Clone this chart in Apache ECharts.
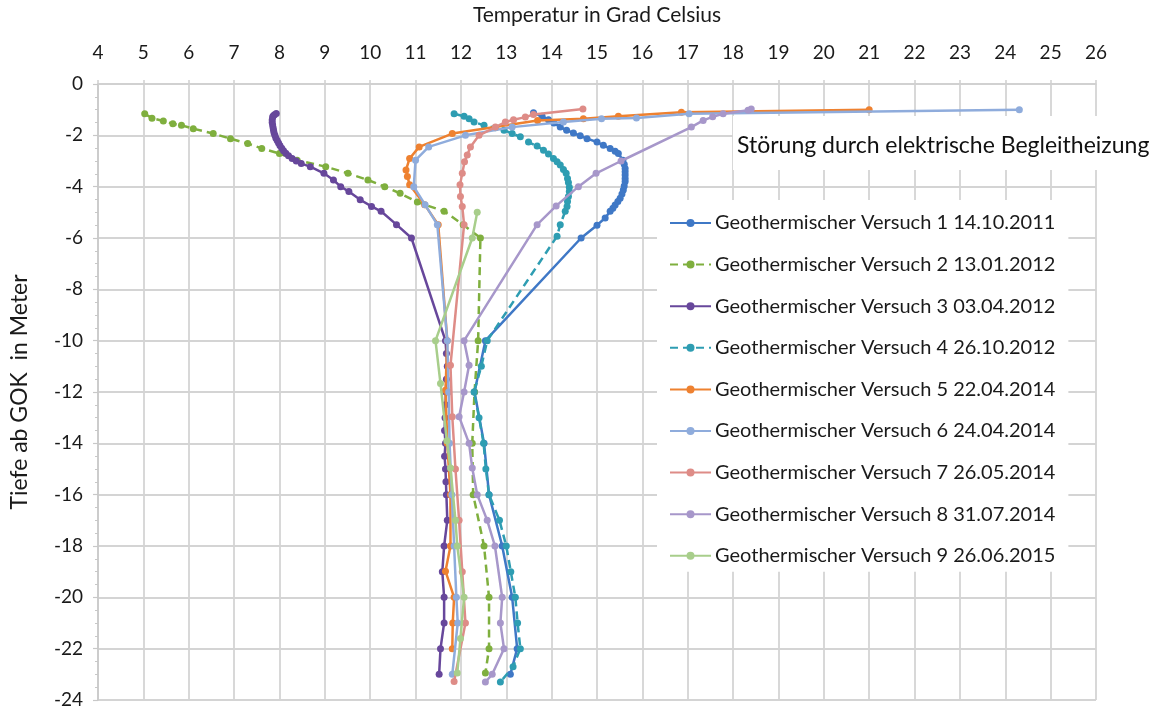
<!DOCTYPE html>
<html>
<head>
<meta charset="utf-8">
<script src="https://cdn.jsdelivr.net/npm/echarts@6/dist/echarts.min.js"></script>
<style>
html,body{margin:0;padding:0;background:#fff;}
#c{width:1159px;height:710px;}
</style>
</head>
<body>
<div id="c"></div>
<script>
// Axis ticks
const xTicks = {min: 4, max: 26, step: 1};
const yTicks = {min: -24, max: 0, step: 2};

const names = [
  'Geothermischer Versuch 1 14.10.2011',
  'Geothermischer Versuch 2 13.01.2012',
  'Geothermischer Versuch 3 03.04.2012',
  'Geothermischer Versuch 4 26.10.2012',
  'Geothermischer Versuch 5 22.04.2014',
  'Geothermischer Versuch 6 24.04.2014',
  'Geothermischer Versuch 7 26.05.2014',
  'Geothermischer Versuch 8 31.07.2014',
  'Geothermischer Versuch 9 26.06.2015'
];

// [temperature °C, depth m]
const v1 = [[13.60,-1.12],[13.79,-1.26],[13.93,-1.39],[14.05,-1.52],[14.19,-1.68],[14.33,-1.80],[14.48,-1.91],[14.63,-2.02],[14.78,-2.13],[15.00,-2.26],[15.14,-2.39],[15.29,-2.51],[15.40,-2.62],[15.47,-2.71],[15.57,-2.97],[15.60,-3.13],[15.62,-3.29],[15.62,-3.42],[15.62,-3.55],[15.62,-3.68],[15.62,-3.80],[15.60,-3.97],[15.58,-4.13],[15.55,-4.29],[15.51,-4.45],[15.46,-4.58],[15.40,-4.71],[15.35,-4.84],[15.29,-4.96],[15.18,-5.22],[15.00,-5.50],[14.65,-6.00],[12.54,-10.00],[12.30,-12.00],[12.51,-14.00],[12.62,-16.00],[12.91,-18.00],[13.13,-20.00],[13.24,-22.00],[13.09,-23.00]];
const v2 = [[5.03,-1.16],[5.19,-1.33],[5.44,-1.44],[5.65,-1.55],[5.84,-1.61],[6.10,-1.74],[6.54,-1.93],[6.92,-2.13],[7.30,-2.32],[7.61,-2.51],[8.00,-2.71],[8.39,-2.97],[9.02,-3.22],[9.51,-3.48],[9.95,-3.74],[10.32,-4.00],[10.66,-4.26],[11.04,-4.60],[11.63,-4.96],[12.05,-5.48],[12.43,-6.00],[12.38,-10.00],[12.30,-12.00],[12.25,-14.00],[12.27,-16.00],[12.51,-18.00],[12.62,-20.00],[12.62,-22.00],[12.54,-22.95]];
const v3 = [[7.93,-1.15],[7.89,-1.20],[7.86,-1.25],[7.85,-1.30],[7.84,-1.40],[7.84,-1.50],[7.85,-1.60],[7.86,-1.70],[7.87,-1.80],[7.88,-1.90],[7.90,-2.00],[7.92,-2.10],[7.95,-2.20],[7.98,-2.30],[8.01,-2.40],[8.05,-2.50],[8.09,-2.60],[8.14,-2.70],[8.20,-2.80],[8.28,-2.90],[8.37,-3.00],[8.48,-3.10],[8.68,-3.22],[8.98,-3.48],[9.19,-3.74],[9.35,-4.00],[9.53,-4.19],[9.78,-4.51],[10.03,-4.77],[10.24,-4.96],[10.58,-5.48],[10.91,-6.00],[11.66,-10.00],[11.68,-10.50],[11.70,-11.00],[11.68,-11.50],[11.67,-12.00],[11.66,-12.50],[11.65,-13.00],[11.64,-13.50],[11.66,-14.00],[11.64,-14.50],[11.66,-15.00],[11.67,-15.50],[11.68,-16.00],[11.70,-17.00],[11.63,-18.00],[11.59,-19.00],[11.63,-20.00],[11.63,-21.00],[11.55,-22.00],[11.52,-23.00]];
const v4 = [[11.85,-1.16],[12.07,-1.26],[12.18,-1.35],[12.29,-1.48],[12.51,-1.61],[12.76,-1.70],[12.95,-1.80],[13.13,-1.93],[13.31,-2.06],[13.49,-2.26],[13.68,-2.42],[13.82,-2.58],[13.93,-2.73],[14.04,-2.90],[14.12,-3.03],[14.19,-3.16],[14.26,-3.33],[14.32,-3.48],[14.35,-3.68],[14.37,-3.84],[14.39,-4.02],[14.39,-4.19],[14.37,-4.38],[14.35,-4.58],[14.34,-4.77],[14.30,-4.96],[14.19,-5.48],[14.12,-5.93],[12.58,-10.00],[12.45,-11.00],[12.29,-12.00],[12.40,-13.00],[12.50,-14.00],[12.55,-15.00],[12.62,-16.00],[12.85,-17.00],[13.00,-18.00],[13.10,-19.00],[13.20,-20.00],[13.25,-21.00],[13.31,-22.00],[13.15,-22.70],[12.87,-23.30]];
const v5 = [[21.00,-1.00],[16.86,-1.10],[15.47,-1.26],[14.70,-1.35],[13.69,-1.42],[11.81,-1.93],[11.08,-2.45],[10.87,-2.90],[10.79,-3.35],[10.82,-3.60],[10.87,-3.93],[11.20,-4.70],[11.50,-5.48],[11.70,-10.00],[11.66,-11.93],[11.70,-14.00],[11.77,-16.00],[11.77,-18.00],[11.66,-18.98],[11.85,-20.00],[11.82,-21.00],[11.81,-22.00]];
const v6 = [[24.31,-1.00],[17.03,-1.16],[15.87,-1.32],[15.10,-1.35],[14.26,-1.48],[13.13,-1.68],[12.10,-2.00],[11.29,-2.45],[11.00,-2.97],[10.96,-4.00],[11.21,-4.70],[11.48,-5.48],[11.70,-10.00],[11.73,-12.00],[11.75,-14.00],[11.80,-16.00],[11.85,-18.00],[11.90,-20.00],[11.93,-21.00],[11.81,-23.00]];
const v7 = [[14.69,-0.97],[13.60,-1.19],[13.42,-1.29],[13.16,-1.39],[12.98,-1.48],[12.76,-1.68],[12.40,-2.00],[12.21,-2.45],[12.14,-2.77],[12.08,-3.03],[12.03,-3.48],[11.98,-3.93],[11.99,-4.38],[12.03,-4.77],[12.07,-5.48],[11.77,-10.96],[11.81,-12.96],[11.88,-15.00],[11.96,-17.00],[12.03,-19.00],[12.10,-21.00],[11.85,-23.28]];
const v8 = [[18.40,-0.97],[18.33,-1.02],[17.78,-1.16],[17.55,-1.28],[17.34,-1.42],[17.08,-1.68],[15.53,-3.00],[14.98,-3.48],[14.59,-4.00],[14.10,-4.75],[13.68,-5.48],[12.07,-10.00],[12.18,-10.96],[12.07,-12.00],[11.96,-12.96],[12.18,-14.00],[12.25,-14.96],[12.36,-16.00],[12.58,-17.00],[12.75,-18.00],[12.91,-20.00],[12.87,-21.00],[12.95,-22.00],[12.69,-23.00],[12.54,-23.30]];
const v9 = [[12.36,-5.00],[12.25,-6.00],[11.44,-10.00],[11.55,-11.67],[11.69,-13.90],[11.77,-14.96],[11.88,-17.00],[11.92,-18.00],[12.07,-20.00],[11.99,-21.60],[11.92,-22.95]];

const values = [v1, v2, v3, v4, v5, v6, v7, v8, v9];
const colors = ['#3F78C6','#7FAF3E','#67479B','#2E9DB2','#EE8130','#8FACDC','#DE8C87','#A797CA','#A8CE8B'];
const dashed = [false, true, false, true, false, false, false, false, false];

const FONT = 'Lato';

const chart = echarts.init(document.getElementById('c'), null, {renderer: 'canvas'});

const series = values.map((v, i) => ({
  name: names[i],
  type: 'line',
  data: v,
  symbol: 'circle',
  symbolSize: 7,
  color: colors[i],
  lineStyle: {width: 2.5, color: colors[i], type: dashed[i] ? [8, 5] : 'solid'},
  itemStyle: {color: colors[i]},
  emphasis: {disabled: true},
  animation: false,
  z: 2 + i
}));

chart.setOption({
  animation: false,
  backgroundColor: '#ffffff',
  textStyle: {fontFamily: FONT},
  grid: {left: 90, right: 63, top: 80, bottom: 10, containLabel: false},
  xAxis: {
    type: 'value',
    position: 'top',
    min: xTicks.min, max: xTicks.max, interval: xTicks.step,
    name: 'Temperatur in Grad Celsius',
    nameLocation: 'middle',
    nameGap: 58,
    nameTextStyle: {fontFamily: FONT, fontSize: 21, color: '#1a1a1a'},
    axisLine: {show: true, lineStyle: {color: '#d0d0d0', width: 1.5}},
    axisTick: {show: true, length: 4, lineStyle: {color: '#d0d0d0', width: 1.5}},
    axisLabel: {fontFamily: FONT, fontSize: 19, color: '#1a1a1a', margin: 22},
    splitLine: {show: true, lineStyle: {color: '#d4d4d4', width: 1.8}}
  },
  yAxis: {
    type: 'value',
    min: yTicks.min, max: yTicks.max, interval: yTicks.step,
    name: 'Tiefe ab GOK  in Meter',
    nameLocation: 'middle',
    nameGap: 67,
    nameRotate: 90,
    nameTextStyle: {fontFamily: FONT, fontSize: 23, color: '#1a1a1a'},
    axisLine: {show: true, lineStyle: {color: '#c8c8c8', width: 1.5}},
    axisTick: {show: true, length: 5, lineStyle: {color: '#c8c8c8', width: 1.2}},
    minorTick: {show: true, splitNumber: 4, length: 3, lineStyle: {color: '#c8c8c8', width: 1}},
    axisLabel: {fontFamily: FONT, fontSize: 19, color: '#1a1a1a', margin: 15},
    splitLine: {show: true, lineStyle: {color: '#d4d4d4', width: 1.8}}
  },
  legend: {
    show: true,
    orient: 'vertical',
    left: 657,
    top: 200,
    backgroundColor: '#ffffff',
    padding: [12, 13, 5, 12],
    itemWidth: 41,
    itemHeight: 10,
    itemGap: 19.6,
    textStyle: {fontFamily: FONT, fontSize: 20, color: '#1a1a1a', lineHeight: 22, padding: [0, 0, 0, -1]},
    data: names
  },
  graphic: [
    {type: 'rect', left: 733, top: 116, shape: {width: 426, height: 54}, style: {fill: '#ffffff'}, z: 50},
    {type: 'text', left: 737, top: 134, style: {text: 'Störung durch elektrische Begleitheizung', font: '23px ' + FONT, fill: '#111'}, z: 51}
  ],
  series: series
});
</script>
</body>
</html>
